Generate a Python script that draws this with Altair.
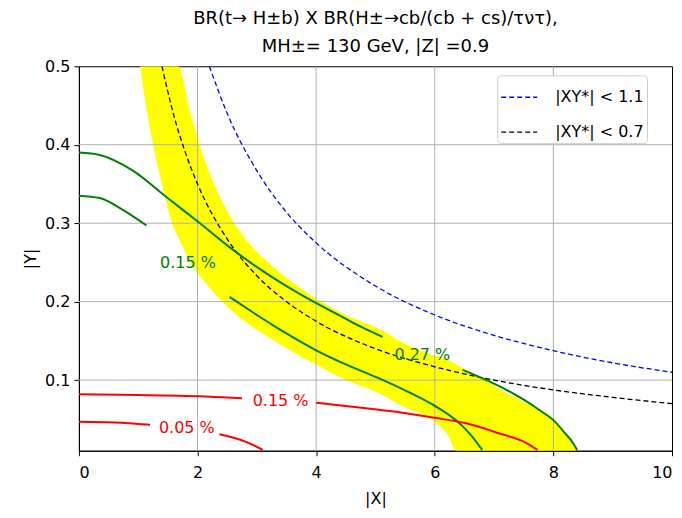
import altair as alt
import pandas as pd

# ---- data ----
# yellow band: for each |X|, lower and upper |Y| edge
band_x = [1.03, 1.13, 1.25, 1.40, 1.57, 1.67, 1.88, 2.10, 2.42, 2.83, 3.30, 3.94, 4.50, 5.07, 5.50, 5.96, 6.22, 6.36, 6.80, 7.20, 7.60, 8.00, 8.20, 8.38]
band_lo = [0.50, 0.45, 0.40, 0.35, 0.30, 0.283, 0.25, 0.227, 0.20, 0.173, 0.15, 0.122, 0.10, 0.083, 0.065, 0.049, 0.03, 0.01, 0.01, 0.01, 0.01, 0.01, 0.01, 0.01]
band_hi = [0.50, 0.50, 0.50, 0.50, 0.50, 0.50, 0.44, 0.385, 0.327, 0.278, 0.243, 0.207, 0.183, 0.165, 0.146, 0.132, 0.126, 0.12, 0.102, 0.084, 0.068, 0.049, 0.032, 0.01]

# dashed |XY*| limits
blue_x = [2.2, 2.5, 3.0, 3.5, 4.0, 5.0, 6.0, 7.0, 8.0, 9.0, 10.0]
blue_y = [0.5, 0.44, 0.367, 0.314, 0.275, 0.22, 0.183, 0.157, 0.1375, 0.122, 0.11]
black_x = [1.4, 1.6, 1.8, 2.0, 2.5, 3.0, 3.5, 4.0, 5.0, 6.0, 7.0, 8.0, 9.0, 10.0]
black_y = [0.5, 0.4375, 0.389, 0.35, 0.28, 0.233, 0.2, 0.175, 0.14, 0.117, 0.1, 0.0875, 0.078, 0.07]
legend_labels = ["|XY*| < 1.1", "|XY*| < 0.7"]

# green contour 0.27 % (two pieces around the label)
g27a_x = [0.0, 0.35, 0.91, 1.48, 2.04, 2.6, 3.16, 3.72, 4.23, 4.6, 5.12]
g27a_y = [0.39, 0.387, 0.367, 0.333, 0.30, 0.266, 0.236, 0.21, 0.189, 0.174, 0.155]
g27b_x = [6.47, 6.87, 7.2, 7.5, 7.8, 8.0, 8.2, 8.32, 8.4]
g27b_y = [0.113, 0.100, 0.088, 0.075, 0.060, 0.049, 0.032, 0.021, 0.011]
# green contour 0.15 %
g15a_x = [0.0, 0.35, 0.74, 1.14]
g15a_y = [0.335, 0.332, 0.317, 0.297]
g15b_x = [2.54, 2.88, 3.4, 4.0, 4.5, 5.1, 5.5, 5.96, 6.25, 6.46, 6.63, 6.8]
g15b_y = [0.206, 0.189, 0.164, 0.138, 0.12, 0.101, 0.087, 0.069, 0.055, 0.042, 0.028, 0.011]

# red contour 0.15 %
r15a_x = [0.0, 1.0, 1.7, 2.75]
r15a_y = [0.082, 0.081, 0.080, 0.077]
r15b_x = [4.0, 4.5, 5.07, 5.4, 6.0, 6.53, 7.09, 7.54, 7.73]
r15b_y = [0.071, 0.067, 0.062, 0.059, 0.052, 0.045, 0.032, 0.02, 0.011]
# red contour 0.05 %
r05a_x = [0.0, 0.6, 1.2]
r05a_y = [0.047, 0.046, 0.043]
r05b_x = [2.37, 2.83, 3.1]
r05b_y = [0.031, 0.021, 0.011]

# contour labels
lab_text = ["0.15 %", "0.27 %", "0.15 %", "0.05 %"]
lab_x = [1.84, 5.79, 3.40, 1.82]
lab_y = [0.249, 0.132, 0.073, 0.039]
lab_col = ["green", "green", "red", "red"]

xticks = [0, 2, 4, 6, 8, 10]
yticks = [0.1, 0.2, 0.3, 0.4, 0.5]
xgrid = [2, 4, 6, 8]
ygrid = [0.1, 0.2, 0.3, 0.4]

FONT = "DejaVu Sans"
W, H = 594, 385

xs = alt.Scale(domain=[0, 10], nice=False)
ys = alt.Scale(domain=[0.01, 0.5], nice=False)

band = pd.DataFrame({"x": band_x, "lo": band_lo, "hi": band_hi})
area = alt.Chart(band).mark_area(color="#ffff00", interpolate="monotone", opacity=1, clip=True).encode(
    x=alt.X("x:Q", scale=xs, axis=alt.Axis(values=xticks, format="d", title="|X|", grid=False)),
    y=alt.Y("lo:Q", scale=ys, axis=alt.Axis(values=yticks, format=".1f", title="|Y|", grid=False)),
    y2="hi:Q",
)

gx = alt.Chart(pd.DataFrame({"g": xgrid})).mark_rule(color="#b0b0b0", strokeWidth=1).encode(x=alt.X("g:Q", scale=xs))
gy = alt.Chart(pd.DataFrame({"g": ygrid})).mark_rule(color="#b0b0b0", strokeWidth=1).encode(y=alt.Y("g:Q", scale=ys))

dash = pd.concat([
    pd.DataFrame({"x": blue_x, "y": blue_y, "curve": legend_labels[0]}),
    pd.DataFrame({"x": black_x, "y": black_y, "curve": legend_labels[1]}),
])
dashed = alt.Chart(dash).mark_line(strokeDash=[5, 3], strokeWidth=1.3, interpolate="monotone", clip=True).encode(
    x=alt.X("x:Q", scale=xs),
    y=alt.Y("y:Q", scale=ys),
    color=alt.Color("curve:N", scale=alt.Scale(domain=legend_labels, range=["blue", "black"]),
                    legend=alt.Legend(title=None, orient="none", legendX=419, legendY=9,
                                      symbolType="stroke", symbolDash=[5, 3], symbolSize=1300,
                                      symbolStrokeWidth=1.3, labelFontSize=16, labelFont=FONT,
                                      labelColor="black", rowPadding=8, padding=3,
                                      fillColor="white", strokeColor="#cccccc", cornerRadius=4,
                                      labelOffset=17)),
    detail="curve:N",
)

def seg_df(pairs):
    frames = []
    for i, (px, py) in enumerate(pairs):
        frames.append(pd.DataFrame({"x": px, "y": py, "seg": i}))
    return pd.concat(frames)

green = alt.Chart(seg_df([(g27a_x, g27a_y), (g27b_x, g27b_y), (g15a_x, g15a_y), (g15b_x, g15b_y)])).mark_line(
    color="green", strokeWidth=2, interpolate="monotone", clip=True).encode(
    x=alt.X("x:Q", scale=xs), y=alt.Y("y:Q", scale=ys), detail="seg:N")
red = alt.Chart(seg_df([(r15a_x, r15a_y), (r15b_x, r15b_y), (r05a_x, r05a_y), (r05b_x, r05b_y)])).mark_line(
    color="red", strokeWidth=2, interpolate="monotone", clip=True).encode(
    x=alt.X("x:Q", scale=xs), y=alt.Y("y:Q", scale=ys), detail="seg:N")

labels = alt.Chart(pd.DataFrame({"x": lab_x, "y": lab_y, "t": lab_text, "c": lab_col})).mark_text(
    fontSize=16, font=FONT, align="center", baseline="middle").encode(
    x=alt.X("x:Q", scale=xs), y=alt.Y("y:Q", scale=ys), text="t:N",
    color=alt.Color("c:N", scale=None))

title_lines = ["BR(t\u2192 H\u00b1b) X BR(H\u00b1\u2192cb/(cb + cs)/\u03c4\u03bd\u03c4),",
               "MH\u00b1= 130 GeV, |Z| =0.9"]

chart = alt.layer(area, gx, gy, dashed, green, red, labels).properties(
    width=W, height=H,
    title=alt.TitleParams(text=title_lines, fontSize=18, font=FONT, fontWeight="normal",
                          lineHeight=28, anchor="middle", offset=2, color="black"),
    autosize=alt.AutoSizeParams(type="none"),
    padding={"left": 71, "top": 58, "right": 2, "bottom": 64},
).configure_view(stroke="black", strokeWidth=1).configure_axis(
    domainColor="black", tickColor="black", tickSize=5, labelFontSize=16, titleFontSize=16,
    labelFont=FONT, titleFont=FONT, labelColor="black", titleColor="black",
    titleFontWeight="normal", labelPadding=4,
).configure_axisY(titlePadding=6).configure_axisX(labelPadding=9, titlePadding=10)

chart.save("out.html", embed_options={"renderer": "svg", "actions": False})
